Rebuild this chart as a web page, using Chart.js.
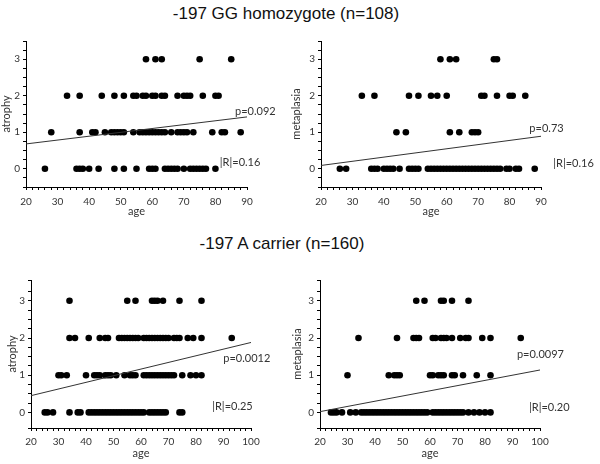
<!DOCTYPE html>
<html lang="en">
<head>
    <meta charset="UTF-8">
    <title>-197 genotype: age vs atrophy / metaplasia</title>
    <script src="https://cdn.jsdelivr.net/npm/chart.js@4.4.0/dist/chart.umd.min.js"></script>
    <style>
        body { margin: 0; background: #fff; }
        #wrap { position: relative; width: 600px; height: 464px; overflow: hidden; }
        .title { position: absolute; font-family: "Liberation Sans", Arial, sans-serif; font-size: 17px; color: #111; white-space: nowrap; transform: translate(-50%, -50%); }
        .panel { position: absolute; }
    </style>
</head>
<body>
<div id="wrap">
    <div class="title" style="left:286px; top:14px;">-197 GG homozygote (n=108)</div>
    <div class="title" style="left:282px; top:244px;">-197 A carrier (n=160)</div>
    <div class="panel" style="left:0; top:30px; width:285px; height:190px;"><canvas id="ggAtrophy"></canvas></div>
    <div class="panel" style="left:285px; top:30px; width:315px; height:190px;"><canvas id="ggMeta"></canvas></div>
    <div class="panel" style="left:0; top:260px; width:285px; height:204px;"><canvas id="aAtrophy"></canvas></div>
    <div class="panel" style="left:285px; top:260px; width:315px; height:204px;"><canvas id="aMeta"></canvas></div>
</div>

<script>
    // ages per score level (index = score 0..3)
    const scoreLevels = [0, 1, 2, 3];

    const ggAtrophyRows = [
        [26, 36, 37, 38, 40, 43, 48, 51, 55, 59, 60, 61, 64, 65, 66, 67, 68, 70, 72, 73, 74, 75, 76, 77, 80],
        [28, 37, 41, 42, 45, 47, 48, 49, 50, 51, 54, 56, 57, 58, 59, 60, 61, 62, 63, 64, 66, 68, 69, 70, 71, 73, 79, 82, 83, 88],
        [33, 37, 44, 48, 51, 54, 55, 57, 58, 60, 61, 63, 64, 68, 70, 71, 72, 76, 80, 81],
        [58, 61, 63, 75, 85]
    ];
    const ggMetaRows = [
        [26, 28, 36, 37, 38, 40, 41, 42, 43, 45, 48, 49, 50, 51, 54, 55, 56, 57, 58, 59, 60, 61, 62, 63, 64, 65,
         66, 67, 68, 69, 70, 71, 72, 73, 74, 75, 76, 77, 79, 80, 82, 83, 88],
        [44, 47, 61, 64, 68, 69, 70],
        [33, 37, 48, 51, 55, 57, 60, 71, 72, 76, 80, 81, 85],
        [58, 61, 63, 75, 76]
    ];
    const aAtrophyRows = [
        [25, 26, 28, 34, 37, 38, 41, 42, 43, 44, 45, 46, 47, 48, 49, 50, 51, 52, 53, 54, 55, 56, 57, 58, 59, 60,
         61, 63, 64, 65, 66, 67, 68, 69, 74, 75],
        [30, 31, 33, 40, 43, 44, 45, 47, 48, 49, 51, 54, 56, 57, 58, 61, 62, 63, 64, 65, 66, 67, 68, 69, 70, 71, 72,
         75, 78, 80, 82],
        [34, 36, 41, 45, 47, 48, 52, 53, 54, 55, 56, 57, 58, 59, 61, 62, 63, 64, 65, 66, 67, 68, 69, 70, 72, 73,
         74, 77, 79, 82, 93],
        [34, 55, 58, 64, 65, 66, 68, 74, 82]
    ];
    const aMetaRows = [
        [24, 25, 26, 28, 31, 33, 35, 36, 37, 38, 39, 40, 41, 42, 43, 44, 45, 46, 47, 48, 49, 50, 51, 52, 53, 54,
         55, 56, 57, 58, 59, 61, 62, 63, 64, 65, 66, 67, 68, 69, 70, 71, 72, 74, 76, 78, 80, 82],
        [30, 45, 47, 48, 49, 60, 61, 63, 64, 65, 68, 69, 72, 77, 82],
        [34, 48, 54, 55, 56, 61, 62, 64, 65, 66, 68, 71, 73, 74, 79, 82, 93],
        [55, 58, 64, 65, 68, 74]
    ];

    // regression line end points
    const topFitX = [20, 90];
    const bottomFitX = [20, 100];
    const ggAtrophyFit = [0.68, 1.42];
    const ggMetaFit = [0.09, 0.89];
    const aAtrophyFit = [0.45, 1.88];
    const aMetaFit = [0.02, 1.14];

    const toPoints = rows => rows.flatMap((ages, i) => ages.map(a => ({ x: a, y: scoreLevels[i] })));

    // small plugin to write the p / |R| notes in data coordinates
    const notesPlugin = {
        id: 'notes',
        afterDatasetsDraw(chart, args, opts) {
            const { ctx, scales: { x, y } } = chart;
            ctx.save();
            ctx.font = '11px Lato, "Open Sans", sans-serif';
            ctx.fillStyle = '#333';
            ctx.textBaseline = 'middle';
            (opts.items || []).forEach(n => ctx.fillText(n.text, x.getPixelForValue(n.x), y.getPixelForValue(n.y)));
            ctx.restore();
        }
    };

    function makePanel(id, cfg) {
        new Chart(document.getElementById(id), {
            type: 'scatter',
            data: {
                datasets: [
                    {
                        type: 'line',
                        data: cfg.fitX.map((x, i) => ({ x: x, y: cfg.fit[i] })),
                        borderColor: '#333',
                        borderWidth: 1,
                        pointRadius: 0,
                        fill: false
                    },
                    {
                        data: toPoints(cfg.rows),
                        backgroundColor: '#000',
                        borderWidth: 0,
                        pointRadius: 3.3
                    }
                ]
            },
            options: {
                responsive: true,
                maintainAspectRatio: false,
                animation: false,
                layout: { padding: cfg.padding },
                plugins: {
                    legend: { display: false },
                    tooltip: { enabled: false },
                    notes: { items: cfg.notes }
                },
                scales: {
                    x: {
                        type: 'linear',
                        min: 20,
                        max: cfg.fitX[1],
                        afterFit: s => { s.height = cfg.xHeight; },
                        border: { display: true, color: '#000', width: 1 },
                        grid: { drawOnChartArea: false, drawTicks: true, tickLength: 3, tickColor: '#000' },
                        ticks: {
                            stepSize: 2,
                            autoSkip: false,
                            maxRotation: 0,
                            padding: cfg.xTickPad,
                            color: '#333',
                            font: { family: 'Lato, "Open Sans", sans-serif', size: 10 },
                            callback: v => (v % 10 === 0 ? v : '')
                        },
                        title: {
                            display: true, text: 'age', color: '#333',
                            font: { family: 'Lato, "Open Sans", sans-serif', size: 11 },
                            padding: { top: 0, bottom: cfg.titlePad }
                        }
                    },
                    y: {
                        min: cfg.yMin,
                        max: cfg.yMax,
                        afterFit: s => { s.width = cfg.yWidth; },
                        border: { display: true, color: '#000', width: 1 },
                        grid: { drawOnChartArea: false, drawTicks: true, tickLength: 3, tickColor: '#000' },
                        ticks: {
                            stepSize: 0.25,
                            autoSkip: false,
                            padding: 3,
                            color: '#333',
                            font: { family: 'Lato, "Open Sans", sans-serif', size: 10 },
                            callback: v => (Number.isInteger(v) ? v : '')
                        },
                        title: {
                            display: true, text: cfg.yLabel, color: '#333',
                            font: { family: 'Lato, "Open Sans", sans-serif', size: 11 },
                            padding: { top: cfg.yTitlePad, bottom: 0 }
                        }
                    }
                }
            },
            plugins: [notesPlugin]
        });
    }

    makePanel('ggAtrophy', {
        rows: ggAtrophyRows, fitX: topFitX, fit: ggAtrophyFit, yLabel: 'atrophy',
        yMin: -0.5, yMax: 3.5, yWidth: 26, yTitlePad: 0, xHeight: 33, xTickPad: 6, titlePad: 2,
        padding: { left: 0, top: 11, right: 38, bottom: 0 },
        notes: [{ text: 'p=0.092', x: 86.2, y: 1.56 }, { text: '|R|=0.16', x: 81.4, y: 0.17 }]
    });
    makePanel('ggMeta', {
        rows: ggMetaRows, fitX: topFitX, fit: ggMetaFit, yLabel: 'metaplasia',
        yMin: -0.5, yMax: 3.5, yWidth: 36, yTitlePad: 5, xHeight: 33, xTickPad: 6, titlePad: 2,
        padding: { left: 0, top: 11, right: 59, bottom: 0 },
        notes: [{ text: 'p=0.73', x: 86.3, y: 1.1 }, { text: '|R|=0.16', x: 93.9, y: 0.14 }]
    });
    makePanel('aAtrophy', {
        rows: aAtrophyRows, fitX: bottomFitX, fit: aAtrophyFit, yLabel: 'atrophy',
        yMin: -0.42, yMax: 3.56, yWidth: 31, yTitlePad: 6, xHeight: 36, xTickPad: 5, titlePad: 4,
        padding: { left: 0, top: 20, right: 34, bottom: 0 },
        notes: [{ text: 'p=0.0012', x: 89.9, y: 1.44 }, { text: '|R|=0.25', x: 85.9, y: 0.16 }]
    });
    makePanel('aMeta', {
        rows: aMetaRows, fitX: bottomFitX, fit: aMetaFit, yLabel: 'metaplasia',
        yMin: -0.42, yMax: 3.56, yWidth: 35, yTitlePad: 6, xHeight: 36, xTickPad: 5, titlePad: 4,
        padding: { left: 0, top: 20, right: 60, bottom: 0 },
        notes: [{ text: 'p=0.0097', x: 91.6, y: 1.55 }, { text: '|R|=0.20', x: 96, y: 0.14 }]
    });
</script>
</body>
</html>
